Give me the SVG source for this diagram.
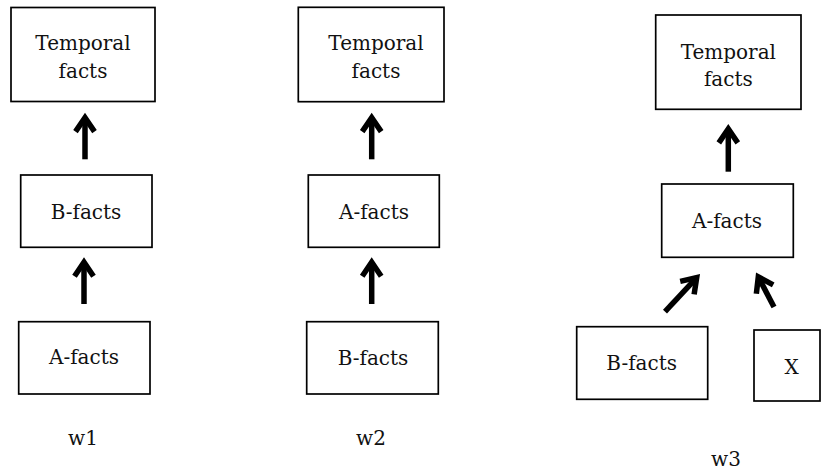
<svg xmlns="http://www.w3.org/2000/svg" width="821" height="470" viewBox="0 0 821 470">
<style>
.box{fill:#fff;stroke:#000;stroke-width:1.7}
.t{font-family:"DejaVu Serif","Liberation Serif",serif;font-size:20px;fill:#111;text-anchor:middle}
.arr{fill:none;stroke:#000;stroke-width:5.5;marker-end:url(#head)}
</style>
<defs>
<marker id="head" markerUnits="userSpaceOnUse" markerWidth="40" markerHeight="40" viewBox="-20 -20 40 40" refX="0" refY="0" orient="auto" overflow="visible">
<path d="M-14,-9.5 L0,0 L-14,9.5" fill="none" stroke="#000" stroke-width="5.5" stroke-linejoin="miter"/>
</marker>
</defs>
<rect width="821" height="470" fill="#fff"/>
<g id="w1-temporal"><rect class="box" x="11" y="7.5" width="144" height="94"/><text class="t" x="83" y="50">Temporal</text><text class="t" x="83" y="78">facts</text></g>
<g id="w1-bfacts"><rect class="box" x="20.7" y="175" width="131.3" height="72.3"/><text class="t" x="86" y="219">B-facts</text></g>
<g id="w1-afacts"><rect class="box" x="18.7" y="321.7" width="131.3" height="72.3"/><text class="t" x="84" y="364">A-facts</text></g>
<g id="w2-temporal"><rect class="box" x="298.3" y="7.3" width="145.7" height="94.4"/><text class="t" x="376" y="50">Temporal</text><text class="t" x="376" y="78">facts</text></g>
<g id="w2-afacts"><rect class="box" x="308.3" y="175" width="131" height="72.3"/><text class="t" x="374" y="218.5">A-facts</text></g>
<g id="w2-bfacts"><rect class="box" x="306.7" y="321.7" width="131.6" height="72.3"/><text class="t" x="373" y="364.5">B-facts</text></g>
<g id="w3-temporal"><rect class="box" x="655.7" y="15" width="145.3" height="94.3"/><text class="t" x="728.3" y="59">Temporal</text><text class="t" x="728.3" y="86">facts</text></g>
<g id="w3-afacts"><rect class="box" x="661.7" y="184" width="131.6" height="73.3"/><text class="t" x="727" y="228.3">A-facts</text></g>
<g id="w3-bfacts"><rect class="box" x="576.7" y="326.7" width="131" height="72.6"/><text class="t" x="641.7" y="370">B-facts</text></g>
<g id="w3-x"><rect class="box" x="754" y="330" width="66" height="71"/><text class="t" x="791.7" y="374">X</text></g>
<g id="labels"><text class="t" x="83" y="445">w1</text><text class="t" x="371" y="445">w2</text><text class="t" x="726" y="466">w3</text></g>
<g id="connectors">
<path class="arr" d="M85,159.3 V117.6"/>
<path class="arr" d="M84,304 V262.2"/>
<path class="arr" d="M371.7,159.3 V117.6"/>
<path class="arr" d="M371.7,304 V262.2"/>
<path class="arr" d="M728.3,171.7 V128.9"/>
<path class="arr" d="M665,311.7 L696.7,277.6"/>
<path class="arr" d="M774,307 L758.3,276.9"/>
</g>
</svg>
